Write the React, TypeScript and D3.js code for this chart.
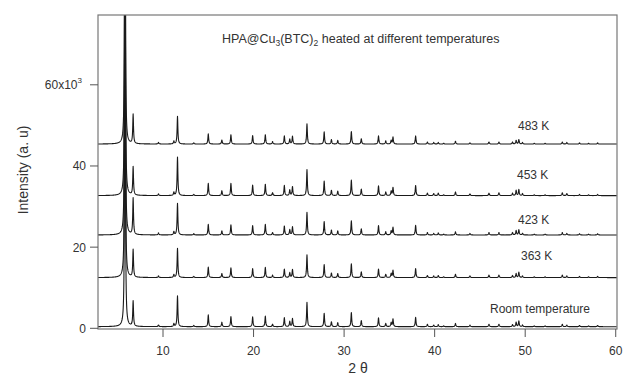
import React, { useEffect, useRef } from "react";
import * as d3 from "d3";

// peak positions (2 theta)
const peakPos = [
  5.8, 6.7, 9.5, 11.2, 11.6, 13.4, 15.0, 16.5, 17.5, 19.9, 21.3, 22.1, 23.4,
  24.0, 24.3, 25.9, 27.8, 28.6, 29.3, 30.8, 31.9, 33.8, 34.6, 35.2, 35.4, 37.9,
  39.2, 39.9, 40.4, 41.0, 42.3, 43.9, 46.0, 47.1, 48.6, 49.0, 49.3, 49.7, 51.0,
  52.2, 54.1, 54.6, 56.0, 57.0, 58.0
];

// peak heights per pattern (x10^3), same order as peakPos
const heightsRT = [
  150, 6.2, 0.4, 0.7, 7.6, 0.3, 2.9, 1.1, 2.5, 2.4, 2.6, 0.6, 2.2, 1.3, 2.0,
  6.0, 3.3, 1.2, 1.0, 3.5, 1.5, 2.2, 0.8, 1.0, 1.9, 2.3, 0.6, 0.4, 0.5, 0.2,
  0.8, 0.4, 0.6, 0.6, 0.5, 1.1, 1.4, 0.4, 0.2, 0.2, 0.6, 0.4, 0.3, 0.2, 0.3
];
const heights363 = [
  150, 6.8, 0.4, 0.7, 7.2, 0.3, 2.6, 1.0, 2.4, 2.2, 2.5, 0.6, 2.1, 1.2, 2.0,
  5.6, 3.2, 1.1, 1.0, 3.4, 1.4, 2.1, 0.8, 1.0, 1.8, 2.2, 0.5, 0.4, 0.5, 0.2,
  0.8, 0.4, 0.6, 0.6, 0.5, 1.0, 1.3, 0.4, 0.2, 0.2, 0.6, 0.4, 0.3, 0.2, 0.3
];
const heights423 = [
  150, 9.0, 0.5, 0.8, 7.8, 0.3, 2.6, 1.0, 2.5, 2.3, 2.6, 0.6, 2.2, 1.3, 2.0,
  5.6, 3.3, 1.2, 1.0, 3.5, 1.5, 2.3, 0.8, 1.0, 1.9, 2.4, 0.6, 0.4, 0.5, 0.2,
  0.8, 0.4, 0.6, 0.6, 0.6, 1.1, 1.3, 0.4, 0.2, 0.2, 0.6, 0.4, 0.3, 0.2, 0.3
];
const heights453 = [
  150, 7.0, 0.4, 0.8, 9.5, 0.3, 3.0, 1.2, 3.0, 2.6, 2.8, 0.7, 2.5, 1.4, 2.2,
  6.4, 3.6, 1.3, 1.1, 3.8, 1.6, 2.4, 0.9, 1.1, 2.0, 2.5, 0.6, 0.5, 0.6, 0.2,
  0.9, 0.4, 0.6, 0.7, 0.6, 1.3, 1.5, 0.5, 0.2, 0.2, 0.7, 0.5, 0.3, 0.2, 0.3
];
const heights483 = [
  150, 7.2, 0.4, 0.7, 6.8, 0.3, 2.5, 1.0, 2.3, 2.1, 2.3, 0.6, 2.0, 1.2, 1.9,
  5.0, 3.0, 1.1, 0.9, 3.1, 1.3, 2.0, 0.8, 0.9, 1.7, 2.0, 0.5, 0.4, 0.4, 0.2,
  0.7, 0.3, 0.5, 0.5, 0.5, 0.9, 1.1, 0.4, 0.2, 0.2, 0.5, 0.4, 0.3, 0.2, 0.3
];

const seriesNames = ["Room temperature", "363 K", "423 K", "453 K", "483 K"];
const seriesOffsets = [0.4, 12.5, 23, 32.7, 45.4]; // x10^3
const seriesHeights = [heightsRT, heights363, heights423, heights453, heights483];

const xTicks = [10, 20, 30, 40, 50, 60];
const yTicks = [0, 20, 40, 60];

export default function App() {
  const ref = useRef<SVGSVGElement>(null);

  useEffect(() => {
    const svg = d3.select(ref.current);
    svg.selectAll("*").remove();

    const left = 98, right = 617, top = 15, bottom = 329;
    const x = d3.scaleLinear().domain([2.82, 60.14]).range([left, right]);
    const y = d3.scaleLinear().domain([-0.17, 77.2]).range([bottom, top]);

    svg
      .append("defs")
      .append("clipPath")
      .attr("id", "plotClip")
      .append("rect")
      .attr("x", left)
      .attr("y", top)
      .attr("width", right - left)
      .attr("height", bottom - top);

    // sample grid for peak profiles
    const grid = d3.range(2.82, 60.14, 0.02);
    const line = d3
      .line<[number, number]>()
      .x(d => x(d[0]))
      .y(d => y(d[1]));

    const g = svg.append("g").attr("clip-path", "url(#plotClip)");
    seriesHeights.forEach((hs, si) => {
      const pts: [number, number][] = grid.map(t => {
        let v = seriesOffsets[si];
        peakPos.forEach((p, i) => {
          const w = i === 0 ? 0.035 : 0.05;
          const d = t - p;
          v += (hs[i] * w * w) / (d * d + w * w);
        });
        return [t, v];
      });
      g.append("path")
        .attr("d", line(pts))
        .attr("fill", "none")
        .attr("stroke", "#1a1a1a")
        .attr("stroke-width", 1.1)
        .attr("stroke-linejoin", "round");
    });

    // frame
    svg
      .append("rect")
      .attr("x", left)
      .attr("y", top)
      .attr("width", right - left)
      .attr("height", bottom - top)
      .attr("fill", "none")
      .attr("stroke", "#777")
      .attr("stroke-width", 1.2);

    // ticks
    const axisColor = "#555";
    svg
      .append("g")
      .selectAll("line")
      .data(xTicks)
      .enter()
      .append("line")
      .attr("x1", d => x(d))
      .attr("x2", d => x(d))
      .attr("y1", bottom)
      .attr("y2", bottom + 8)
      .attr("stroke", axisColor);
    svg
      .append("g")
      .selectAll("text")
      .data(xTicks)
      .enter()
      .append("text")
      .attr("x", d => x(d))
      .attr("y", 355)
      .attr("text-anchor", "middle")
      .attr("font-size", 12)
      .attr("fill", "#333")
      .text(d => d);

    svg
      .append("g")
      .selectAll("line")
      .data(yTicks)
      .enter()
      .append("line")
      .attr("x1", left - 8)
      .attr("x2", left)
      .attr("y1", d => y(d))
      .attr("y2", d => y(d))
      .attr("stroke", axisColor);
    const yl = svg
      .append("g")
      .selectAll("text")
      .data(yTicks)
      .enter()
      .append("text")
      .attr("x", d => (d === 60 ? 82 : left - 12))
      .attr("y", d => y(d) + 4.5)
      .attr("text-anchor", "end")
      .attr("font-size", 12)
      .attr("fill", "#333");
    yl.each(function (d) {
      const t = d3.select(this);
      if (d === 60) {
        t.append("tspan").text("60x10");
        t.append("tspan").attr("dy", -6).attr("font-size", 8).text("3");
      } else {
        t.text(d);
      }
    });

    // axis titles
    svg
      .append("text")
      .attr("transform", "translate(28,170) rotate(-90)")
      .attr("text-anchor", "middle")
      .attr("font-size", 14)
      .attr("fill", "#333")
      .text("Intensity (a. u)");
    svg
      .append("text")
      .attr("x", 358)
      .attr("y", 373)
      .attr("text-anchor", "middle")
      .attr("font-size", 14)
      .attr("fill", "#333")
      .text("2 θ");

    // title
    const title = svg
      .append("text")
      .attr("x", 222)
      .attr("y", 43)
      .attr("font-size", 12.5)
      .attr("fill", "#333");
    title.append("tspan").text("HPA@Cu");
    title.append("tspan").attr("dy", 3).attr("font-size", 8.5).text("3");
    title.append("tspan").attr("dy", -3).text("(BTC)");
    title.append("tspan").attr("dy", 3).attr("font-size", 8.5).text("2");
    title.append("tspan").attr("dy", -3).text(" heated at different temperatures");

    // series labels
    const labelPos = [
      [490, 313],
      [521, 260],
      [518, 223.5],
      [517, 179],
      [518, 130]
    ];
    seriesNames.forEach((n, i) => {
      svg
        .append("text")
        .attr("x", labelPos[i][0])
        .attr("y", labelPos[i][1])
        .attr("font-size", 12)
        .attr("fill", "#333")
        .text(n);
    });
  }, []);

  return (
    <svg
      ref={ref}
      width={624}
      height={377}
      style={{
        position: "absolute",
        left: 0,
        top: 0,
        fontFamily: "Liberation Sans, Arial, sans-serif",
        background: "#fff"
      }}
    />
  );
}
